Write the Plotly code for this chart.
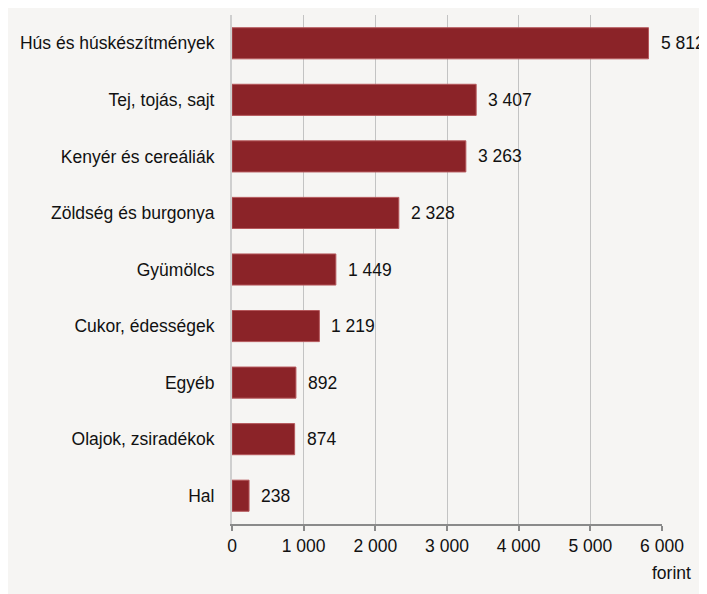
import plotly.graph_objects as go

# Data
categories = ['Hús és húskészítmények', 'Tej, tojás, sajt', 'Kenyér és cereáliák',
              'Zöldség és burgonya', 'Gyümölcs', 'Cukor, édességek', 'Egyéb',
              'Olajok, zsiradékok', 'Hal']
values = [5812, 3407, 3263, 2328, 1449, 1219, 892, 874, 238]
tick_vals = [0, 1000, 2000, 3000, 4000, 5000, 6000]
unit_label = 'forint'

bar_color = '#8b2328'
bg_color = '#f6f5f3'
font_name = 'Liberation Sans, Arial, sans-serif'
fsize = 17.5

fig = go.Figure()
fig.add_trace(go.Bar(
    x=values,
    y=categories,
    orientation='h',
    marker=dict(color=bar_color, line=dict(color='#b5585c', width=1)),
    hoverinfo='x+y',
))

# value labels to the right of each bar
for cat, val in zip(categories, values):
    fig.add_annotation(
        x=val, y=cat, text=f"{val:,}".replace(",", " "),
        showarrow=False, xanchor='left', xshift=10,
        font=dict(size=fsize, color='#111111', family=font_name),
    )

# unit under the last tick
fig.add_annotation(
    x=1, y=0, xref='paper', yref='paper', text=unit_label,
    showarrow=False, xanchor='left', yanchor='top', xshift=-12, yshift=-37,
    font=dict(size=fsize, color='#111111', family=font_name),
)

fig.update_layout(
    width=699, height=586,
    margin=dict(l=224, r=45, t=7, b=70),
    paper_bgcolor=bg_color,
    plot_bgcolor=bg_color,
    separators=', ',
    bargap=0.45,
    showlegend=False,
    font=dict(family=font_name, size=fsize, color='#111111'),
    xaxis=dict(
        range=[0, 6000],
        tickvals=tick_vals,
        tickformat=',d',
        showgrid=True, gridcolor='#c3c3c3', gridwidth=1,
        showline=True, linecolor='#8a8a8a', linewidth=2,
        ticks='outside', ticklen=5, tickcolor='#8a8a8a', tickwidth=2,
        zeroline=False, automargin=False,
        tickfont=dict(size=fsize),
    ),
    yaxis=dict(
        autorange='reversed',
        showline=True, linecolor='#cfcfcf', linewidth=2,
        ticks='', ticklabelstandoff=12,
        showgrid=False, automargin=False,
        tickfont=dict(size=fsize),
    ),
)

fig.write_html("out.html")
